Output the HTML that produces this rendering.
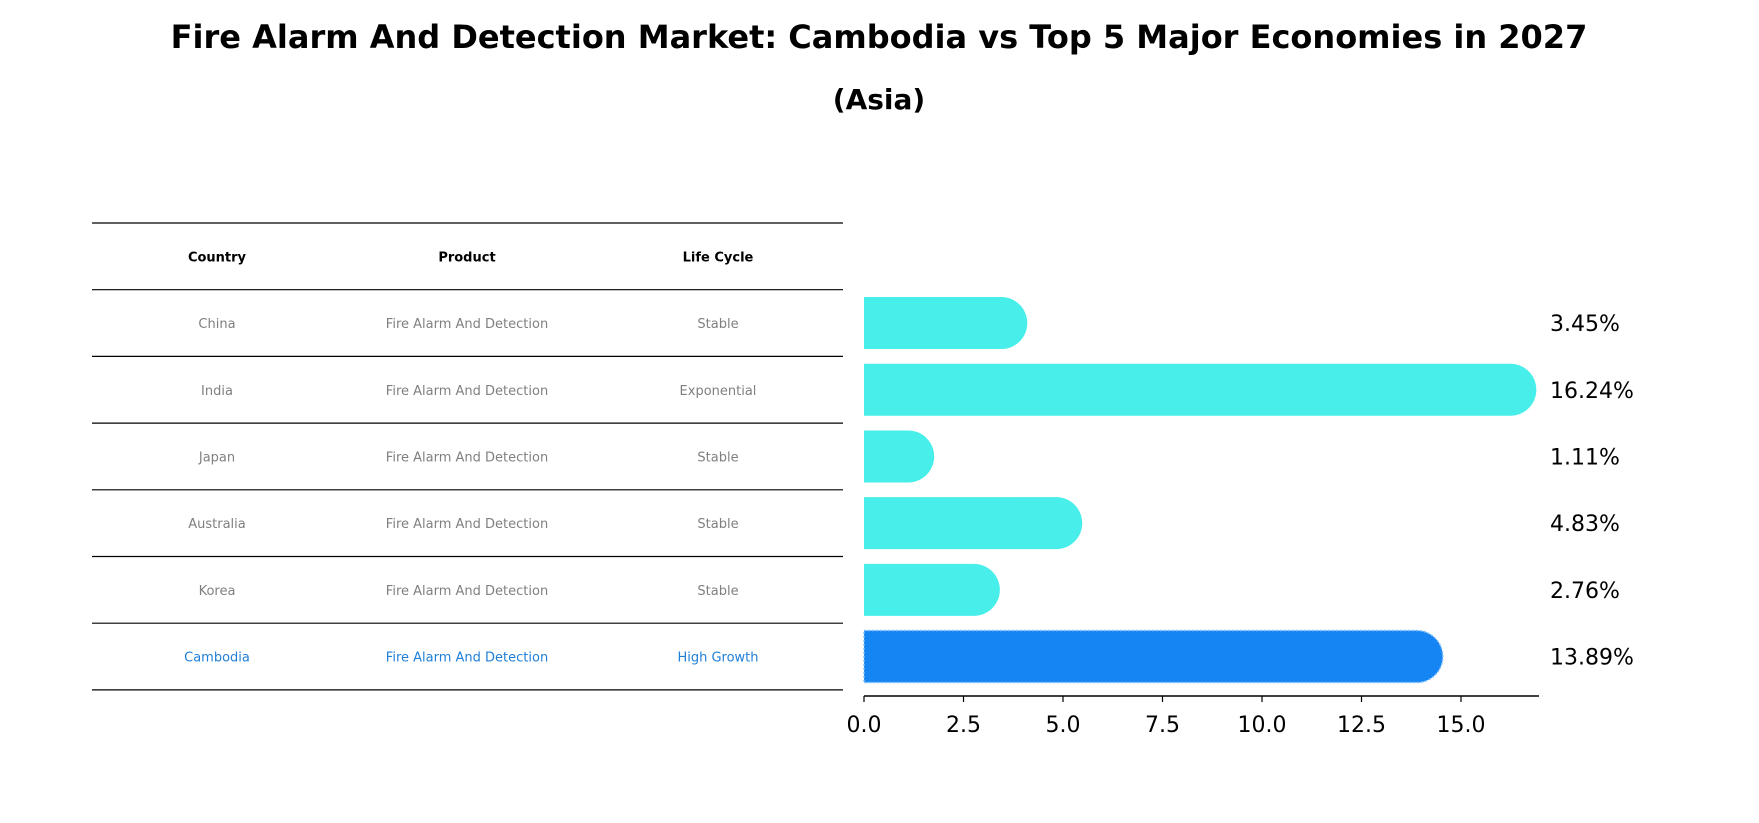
<!DOCTYPE html>
<html><head><meta charset="utf-8"><style>
html,body{margin:0;padding:0;background:#fff;}
svg{display:block;font-family:"DejaVu Sans","Liberation Sans",sans-serif;}
</style></head><body>
<svg id="chart" width="1759" height="823" viewBox="0 0 1759 823" xmlns="http://www.w3.org/2000/svg">
<text x="879" y="48" text-anchor="middle" font-size="32" font-weight="bold">Fire Alarm And Detection Market: Cambodia vs Top 5 Major Economies in 2027</text>
<text x="879" y="109" text-anchor="middle" font-size="28" font-weight="bold">(Asia)</text>
<g id="table"></g>
<g id="bars"></g>
</svg>
<script>
const countries=["China","India","Japan","Australia","Korea","Cambodia"];
const products=["Fire Alarm And Detection","Fire Alarm And Detection","Fire Alarm And Detection","Fire Alarm And Detection","Fire Alarm And Detection","Fire Alarm And Detection"];
const lifeCycles=["Stable","Exponential","Stable","Stable","Stable","High Growth"];
const values=[3.45,16.24,1.11,4.83,2.76,13.89];
const tickValues=[0,2.5,5,7.5,10,12.5,15];
const tickLabels=["0.0","2.5","5.0","7.5","10.0","12.5","15.0"];

const NS="http://www.w3.org/2000/svg";
function mk(tag,attrs,parent,text){const e=document.createElementNS(NS,tag);for(const k in attrs)e.setAttribute(k,attrs[k]);if(text!==undefined)e.textContent=text;parent.appendChild(e);return e;}
const table=document.getElementById('table');
const bars=document.getElementById('bars');
const x0=864,pxPerUnit=39.8;
function xs(v){return x0+v*pxPerUnit;}
const rowTop=223,rowH=66.7,barH=52;
function yc(i){return rowTop+rowH*(i+1.5);}
// table lines
for(let i=0;i<=countries.length+1;i++){
  const y=rowTop+rowH*i;
  const l=mk('line',{x1:92,x2:843,y1:y,y2:y,stroke:'#000','stroke-width':1.2},table);
  
  
}
const colX=[217,467,718];
const headers=["Country","Product","Life Cycle"];
headers.forEach((h,j)=>{
  const t=mk('text',{x:colX[j],y:rowTop+rowH*0.5+5,'text-anchor':'middle','font-size':13,'font-weight':'bold'},table,h);
  
  
});
countries.forEach((c,i)=>{
  const color=i===countries.length-1?'#1f7fd6':'#808080';
  [c,products[i],lifeCycles[i]].forEach((v,j)=>{
    const t=mk('text',{x:colX[j],y:yc(i)+5,'text-anchor':'middle','font-size':13,fill:color},table,v);
    
    
  });
});
// bars
values.forEach((v,i)=>{
  const last=i===values.length-1;
  const fill=last?'#1685f4':'#48eee9';
  const w=xs(v)-x0, r=barH/2, y=yc(i)-r;
  const d=`M${x0},${y} H${x0+w} A${r},${r} 0 0 1 ${x0+w},${y+barH} H${x0} Z`;
  const p=mk('path',{d:d,fill:fill},bars);
  if(last){p.setAttribute('stroke','#7fbfff');p.setAttribute('stroke-dasharray','2,2');p.setAttribute('stroke-width','1.5');}
  
  
  const t=mk('text',{x:1550,y:yc(i)+8,'font-size':22},bars,v.toFixed(2)+'%');
  
  
});
// axis
const axY=696;
const ax=mk('line',{x1:x0,x2:1539,y1:axY,y2:axY,stroke:'#000','stroke-width':1.5},bars);


tickValues.forEach((v,i)=>{
  const tk=mk('line',{x1:xs(v),x2:xs(v),y1:axY,y2:axY+6,stroke:'#000','stroke-width':1.2},bars);
  
  
  const t=mk('text',{x:xs(v),y:axY+36,'text-anchor':'middle','font-size':22},bars,tickLabels[i]);
  
  
});
</script>
</body></html>
